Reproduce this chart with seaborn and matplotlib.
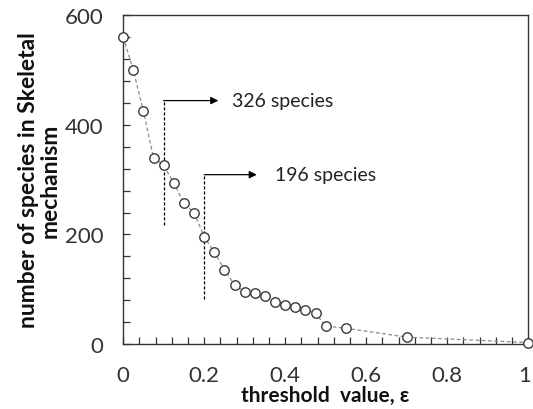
import numpy as np
import pandas as pd
import matplotlib
matplotlib.use("Agg")
import matplotlib.pyplot as plt
import matplotlib.transforms as mtransforms
import seaborn as sns
from matplotlib.ticker import MultipleLocator

threshold = [0.0, 0.025, 0.05, 0.075, 0.1, 0.125, 0.15, 0.175, 0.2, 0.225, 0.25,
             0.275, 0.3, 0.325, 0.35, 0.375, 0.4, 0.425, 0.45, 0.475, 0.5, 0.55,
             0.7, 1.0]
species = [560, 500, 425, 340, 326, 294, 257, 240, 196, 168, 136,
           108, 96, 93, 88, 77, 71, 67, 63, 57, 33, 29,
           13, 3]

x_ticks = [0, 0.2, 0.4, 0.6, 0.8, 1.0]
x_ticklabels = ["0", "0.2", "0.4", "0.6", "0.8", "1"]
y_ticks = [0, 200, 400, 600]

# annotation: (threshold, line bottom, line top, arrow end x, text x, label)
ann_x = [0.1, 0.2]
ann_bottom = [218, 82]
ann_top = [444, 309]
ann_arrow_end = [0.235, 0.33]
ann_text_x = [0.27, 0.375]
ann_labels = ["326 species", "196 species"]

df = pd.DataFrame({"threshold": threshold, "species": species})

sns.set_style("ticks")
plt.rcParams["font.family"] = ["Lato", "DejaVu Sans"]

fig = plt.figure(figsize=(5.33, 4.10), dpi=100)
ax = fig.add_axes([0.231, 0.158, 0.760, 0.803])

sns.lineplot(data=df, x="threshold", y="species", ax=ax, color="#8c8c8c",
             linewidth=0.9, linestyle=(0, (3, 2)), marker="o", markersize=6.8,
             markerfacecolor="white", markeredgecolor="#3a3a3a",
             markeredgewidth=1.0, clip_on=False, zorder=3)

for x, y0, y1, xe, xt, lab in zip(ann_x, ann_bottom, ann_top, ann_arrow_end,
                                  ann_text_x, ann_labels):
    ax.plot([x, x], [y0, y1], color="black", linewidth=0.9,
            linestyle=(0, (2.5, 1.5)), zorder=2)
    ax.annotate("", xy=(xe, y1), xytext=(x, y1),
                arrowprops=dict(arrowstyle="-|>", color="black", lw=0.9,
                                mutation_scale=11, shrinkA=0, shrinkB=0))
    ax.text(xt, y1, lab, fontsize=14, va="center", ha="left", color="#222222")

ax.set_xlim(0, 1)
ax.set_ylim(0, 600)
ax.set_xticks(x_ticks, x_ticklabels)
ax.set_yticks(y_ticks, [str(v) for v in y_ticks])
ax.xaxis.set_minor_locator(MultipleLocator(0.04))
ax.yaxis.set_minor_locator(MultipleLocator(40))
ax.tick_params(axis="both", which="both", direction="in", length=5,
               width=0.9, color="#333333", labelsize=16, labelcolor="#333333",
               top=False, right=False)
ax.tick_params(axis="x", pad=15)
ax.tick_params(axis="y", pad=14)
for s in ax.spines.values():
    s.set_color("#333333")
    s.set_linewidth(1.0)

# nudge the last x label so it stays inside the canvas
last = ax.get_xticklabels()[-1]
last.set_transform(last.get_transform() +
                   mtransforms.ScaledTranslation(-4 / 100, 0, fig.dpi_scale_trans))

ax.set_xlabel("threshold  value, ε", fontsize=15, fontweight="bold",
              color="#111111", labelpad=0)
ax.set_ylabel("number of species in Skeletal\nmechanism", fontsize=16.5,
              fontweight="bold", color="#111111", labelpad=3,
              linespacing=1.05)

fig.savefig("out.png", dpi=100)
